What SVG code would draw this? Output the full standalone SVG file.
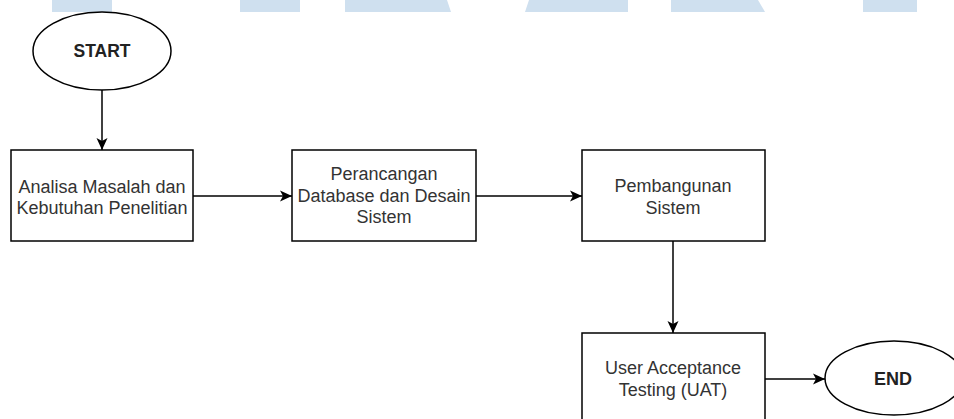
<svg xmlns="http://www.w3.org/2000/svg" width="954" height="419" viewBox="0 0 954 419">
<defs>
<style>
.wm{fill:#cfe0ef;stroke:none}
.node{fill:#ffffff;stroke:#000000;stroke-width:1.5}
.lbl{font-family:"Liberation Sans",Arial,sans-serif;font-size:18px;fill:#333333;text-anchor:middle}
.term{font-family:"Liberation Sans",Arial,sans-serif;font-weight:bold;fill:#222222;text-anchor:middle}
.edge{fill:none;stroke:#000000;stroke-width:1.5}
</style>
<marker id="arr" markerUnits="userSpaceOnUse" markerWidth="14" markerHeight="14" viewBox="0 0 14 14" refX="13" refY="7" orient="auto">
<path d="M1,1.5 L13,7 L1,12.5 L4,7 Z" fill="#000000"/>
</marker>
</defs>
<g id="watermark">
<rect class="wm" x="52" y="0" width="60" height="12"/>
<rect class="wm" x="240" y="0" width="60" height="12"/>
<polygon class="wm" points="345,0 447,0 451,12 345,12"/>
<polygon class="wm" points="529,0 628,0 628,12 525,12"/>
<polygon class="wm" points="671,0 758,0 765,12 671,12"/>
<rect class="wm" x="863" y="0" width="54" height="12"/>
</g>
<g id="connectors">
<line class="edge" x1="102" y1="90" x2="102" y2="150" marker-end="url(#arr)"/>
<line class="edge" x1="193" y1="196" x2="292" y2="196" marker-end="url(#arr)"/>
<line class="edge" x1="476" y1="196" x2="582" y2="196" marker-end="url(#arr)"/>
<line class="edge" x1="673" y1="241" x2="673" y2="333" marker-end="url(#arr)"/>
<line class="edge" x1="765" y1="379" x2="825" y2="379" marker-end="url(#arr)"/>
</g>
<g id="start">
<ellipse class="node" cx="102" cy="51" rx="69" ry="39"/>
<text class="term" x="102" y="57" font-size="17.5">START</text>
</g>
<g id="analisa">
<rect class="node" x="11" y="150" width="182" height="91"/>
<text class="lbl" x="102" y="193">Analisa Masalah dan</text>
<text class="lbl" x="102" y="214">Kebutuhan Penelitian</text>
</g>
<g id="perancangan">
<rect class="node" x="292" y="150" width="184" height="91"/>
<text class="lbl" x="384" y="180">Perancangan</text>
<text class="lbl" x="384" y="202">Database dan Desain</text>
<text class="lbl" x="384" y="223">Sistem</text>
</g>
<g id="pembangunan">
<rect class="node" x="582" y="150" width="183" height="91"/>
<text class="lbl" x="673" y="192">Pembangunan</text>
<text class="lbl" x="673" y="214">Sistem</text>
</g>
<g id="uat">
<rect class="node" x="582" y="333" width="183" height="91"/>
<text class="lbl" x="673" y="374">User Acceptance</text>
<text class="lbl" x="673" y="396">Testing (UAT)</text>
</g>
<g id="end">
<ellipse class="node" cx="894" cy="378" rx="69" ry="37"/>
<text class="term" x="893" y="385" font-size="18">END</text>
</g>
</svg>
